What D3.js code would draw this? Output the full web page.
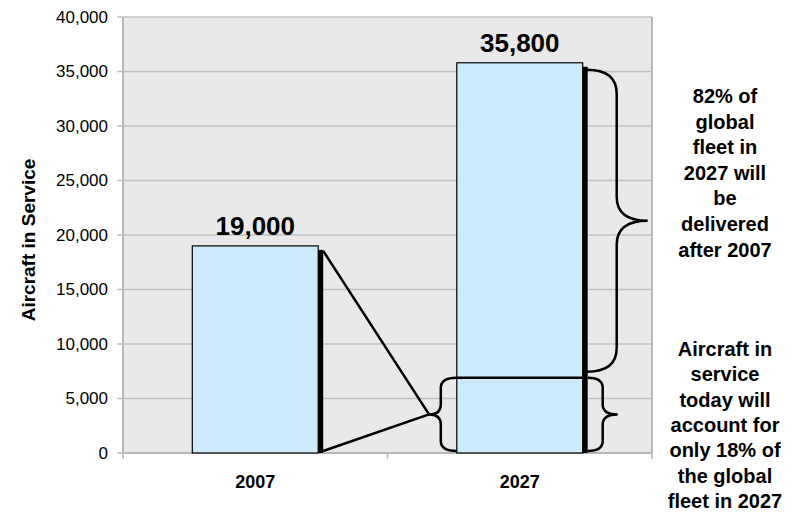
<!DOCTYPE html>
<meta charset="utf-8">
<style>
body { margin: 0; background: #fff; }
text { font-family: "Liberation Sans", Arial, sans-serif; fill: #000; }
.grid line { stroke: #c0c0c0; stroke-width: 1.5; }
.tick-label { font-size: 17px; }
.cat-label { font-size: 18px; font-weight: bold; }
.val-label { font-size: 26px; font-weight: bold; }
.note { font-size: 20px; font-weight: bold; }
.brace, .link { fill: none; stroke: #000; stroke-width: 2.5; }
</style>
<svg width="802" height="513"></svg>
<script src="https://cdn.jsdelivr.net/npm/d3@7"></script>
<script>

// values
var years = ["2007", "2027"];
var fleet = [19000, 35800];
var retained2027 = 6900;   // today's aircraft still flying in 2027
var yTicks = [0, 5000, 10000, 15000, 20000, 25000, 30000, 35000, 40000];
var noteTop = ["82% of", "global", "fleet in", "2027 will", "be", "delivered", "after 2007"];
var noteBottom = ["Aircraft in", "service", "today will", "account for", "only 18% of", "the global", "fleet in 2027"];

var svg = d3.select("svg"),
    margin = {top: 17, right: 150, bottom: 60, left: 123},
    width = 802 - margin.left - margin.right,
    height = 513 - margin.top - margin.bottom;

var x = d3.scaleBand().domain(years).range([margin.left, margin.left + width]).padding(0);
var y = d3.scaleLinear().domain([0, 40000]).range([margin.top + height, margin.top]);
var barW = x.bandwidth() * 0.476;
var barX = function(d) { return x(d) + (x.bandwidth() - barW) / 2; };
var fmt = d3.format(",");

// plot background
svg.append("rect")
    .attr("x", margin.left).attr("y", margin.top)
    .attr("width", width).attr("height", height)
    .attr("fill", "#e9e9e9");

svg.append("g").attr("class", "grid")
  .selectAll("line").data(yTicks).enter().append("line")
    .attr("x1", margin.left - 6).attr("x2", margin.left + width)
    .attr("y1", function(d) { return y(d); }).attr("y2", function(d) { return y(d); });

// axis frame
svg.append("line").attr("x1", margin.left).attr("x2", margin.left)
    .attr("y1", margin.top).attr("y2", margin.top + height)
    .attr("stroke", "#b8b8b8").attr("stroke-width", 2);
svg.append("line").attr("x1", margin.left + width).attr("x2", margin.left + width)
    .attr("y1", margin.top).attr("y2", margin.top + height)
    .attr("stroke", "#b8b8b8").attr("stroke-width", 2);
svg.append("line").attr("x1", margin.left).attr("x2", margin.left + width)
    .attr("y1", y(0)).attr("y2", y(0))
    .attr("stroke", "#b8b8b8").attr("stroke-width", 2);
svg.append("g").selectAll("line")
    .data([margin.left, margin.left + x.step(), margin.left + width]).enter().append("line")
    .attr("x1", function(d) { return d; }).attr("x2", function(d) { return d; })
    .attr("y1", y(0)).attr("y2", y(0) + 6)
    .attr("stroke", "#b8b8b8").attr("stroke-width", 1.5);

svg.append("g").selectAll("text").data(yTicks).enter().append("text")
    .attr("class", "tick-label")
    .attr("x", margin.left - 15)
    .attr("y", function(d) { return y(d); })
    .attr("dy", "0.35em")
    .attr("text-anchor", "end")
    .text(fmt);

svg.append("text")
    .attr("class", "cat-label")
    .attr("transform", "translate(35," + (margin.top + height / 2 + 5) + ") rotate(-90)")
    .attr("text-anchor", "middle")
    .style("font-size", "19px")
    .text("Aircraft in Service");

svg.append("g").selectAll("text").data(years).enter().append("text")
    .attr("class", "cat-label")
    .attr("x", function(d) { return x(d) + x.bandwidth() / 2; })
    .attr("y", 488)
    .attr("text-anchor", "middle")
    .text(function(d) { return d; });

// bars
var bars = svg.append("g").selectAll("g").data(years).enter().append("g");

bars.append("rect")
    .attr("x", barX)
    .attr("y", function(d, i) { return y(fleet[i]); })
    .attr("width", barW)
    .attr("height", function(d, i) { return y(0) - y(fleet[i]); })
    .attr("fill", "#cceafc")
    .attr("stroke", "#000")
    .attr("stroke-width", 1.2);

// dark edge on the right of each bar
bars.append("rect")
    .attr("x", function(d) { return barX(d) + barW; })
    .attr("y", function(d, i) { return y(fleet[i]) + 4; })
    .attr("width", 5)
    .attr("height", function(d, i) { return y(0) - y(fleet[i]) - 4; })
    .attr("fill", "#000");

bars.append("text")
    .attr("class", "val-label")
    .attr("x", function(d) { return barX(d) + barW / 2; })
    .attr("y", function(d, i) { return y(fleet[i]) - 11; })
    .attr("text-anchor", "middle")
    .text(function(d, i) { return fmt(fleet[i]); });

// split line inside 2027 bar
var b2 = barX("2027");
svg.append("line")
    .attr("x1", b2).attr("x2", b2 + barW)
    .attr("y1", y(retained2027)).attr("y2", y(retained2027))
    .attr("stroke", "#000").attr("stroke-width", 2.5);

// curly brace; works facing either way
function brace(x0, y0, y1, xv, xt, r) {
  var ym = (y0 + y1) / 2;
  return "M" + x0 + "," + y0 +
    "Q" + xv + "," + y0 + " " + xv + "," + (y0 + r) +
    "L" + xv + "," + (ym - r) +
    "Q" + xv + "," + ym + " " + xt + "," + ym +
    "Q" + xv + "," + ym + " " + xv + "," + (ym + r) +
    "L" + xv + "," + (y1 - r) +
    "Q" + xv + "," + y1 + " " + x0 + "," + y1;
}

var lowTop = y(retained2027), lowBot = y(0) - 2;
var tipL = 429, tipY = (lowTop + lowBot) / 2;

svg.append("path").attr("class", "brace")
    .attr("d", brace(b2, lowTop, lowBot, b2 - 16, tipL, 10));
svg.append("path").attr("class", "brace")
    .attr("d", brace(b2 + barW + 5, lowTop, lowBot, b2 + barW + 20, b2 + barW + 35, 10));
svg.append("path").attr("class", "brace")
    .attr("d", brace(b2 + barW + 4, y(fleet[1]) + 7, lowTop - 6, b2 + barW + 34, b2 + barW + 65, 24));

var b1 = barX("2007") + barW + 5;
svg.append("path").attr("class", "link")
    .attr("d", "M" + b1 + "," + (y(fleet[0]) + 5) + "L" + tipL + "," + tipY + "L" + b1 + "," + (y(0) - 2));

// side notes
svg.append("g").selectAll("text").data(noteTop).enter().append("text")
    .attr("class", "note")
    .attr("x", 725)
    .attr("y", function(d, i) { return 103 + i * 25.6; })
    .attr("text-anchor", "middle")
    .text(function(d) { return d; });

svg.append("g").selectAll("text").data(noteBottom).enter().append("text")
    .attr("class", "note")
    .attr("x", 725)
    .attr("y", function(d, i) { return 356 + i * 25.3; })
    .attr("text-anchor", "middle")
    .text(function(d) { return d; });

</script>
